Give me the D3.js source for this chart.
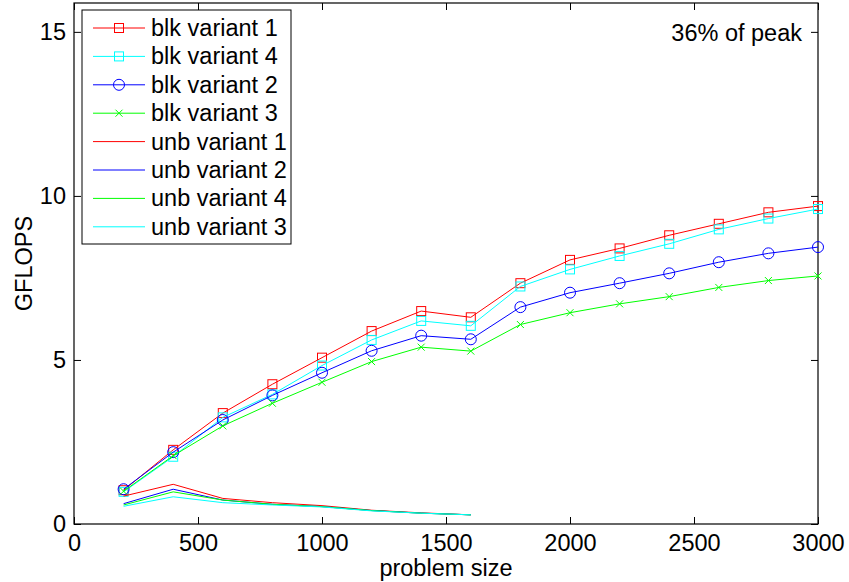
<!DOCTYPE html>
<html>
<head>
<meta charset="utf-8">
<script src="https://d3js.org/d3.v7.min.js"></script>
<style>
  body { margin: 0; background: #fff; }
  text { font-family: "Liberation Sans", Arial, sans-serif; fill: #000; }
</style>
</head>
<body>
<svg width="849" height="582"></svg>
<script>
// problem sizes
var blkSizes = [200, 400, 600, 800, 1000, 1200, 1400, 1600, 1800, 2000, 2200, 2400, 2600, 2800, 3000];
var unbSizes = [200, 400, 600, 800, 1000, 1200, 1400, 1600];

// GFLOPS
var blk1 = [1.03, 2.26, 3.38, 4.26, 5.07, 5.88, 6.49, 6.30, 7.34, 8.05, 8.40, 8.80, 9.15, 9.50, 9.69];
var blk4 = [0.98, 2.05, 3.25, 3.95, 4.83, 5.61, 6.19, 6.04, 7.24, 7.76, 8.17, 8.54, 8.98, 9.31, 9.60];
var blk2 = [1.06, 2.19, 3.17, 3.92, 4.61, 5.28, 5.74, 5.63, 6.61, 7.05, 7.34, 7.64, 7.98, 8.25, 8.44];
var blk3 = [1.00, 2.08, 2.99, 3.68, 4.32, 4.95, 5.39, 5.27, 6.08, 6.44, 6.71, 6.93, 7.21, 7.42, 7.56];
var unb1 = [0.85, 1.21, 0.78, 0.65, 0.56, 0.42, 0.34, 0.28];
var unb2 = [0.62, 1.06, 0.73, 0.60, 0.53, 0.41, 0.33, 0.28];
var unb4 = [0.58, 0.98, 0.73, 0.60, 0.53, 0.41, 0.33, 0.28];
var unb3 = [0.54, 0.83, 0.65, 0.58, 0.52, 0.40, 0.33, 0.28];

var xTicks = [0, 500, 1000, 1500, 2000, 2500, 3000];
var yTicks = [0, 5, 10, 15];
var peakNote = "36% of peak";

var series = [
  {name: "blk variant 1", x: blkSizes, y: blk1, color: "#ff0000", marker: "square"},
  {name: "blk variant 4", x: blkSizes, y: blk4, color: "#00ffff", marker: "square"},
  {name: "blk variant 2", x: blkSizes, y: blk2, color: "#0000ff", marker: "circle"},
  {name: "blk variant 3", x: blkSizes, y: blk3, color: "#00ff00", marker: "x"},
  {name: "unb variant 1", x: unbSizes, y: unb1, color: "#ff0000", marker: null},
  {name: "unb variant 2", x: unbSizes, y: unb2, color: "#0000ff", marker: null},
  {name: "unb variant 4", x: unbSizes, y: unb4, color: "#00ff00", marker: null},
  {name: "unb variant 3", x: unbSizes, y: unb3, color: "#00ffff", marker: null}
];

var fs = "23.5px";
var pl = 74, pr = 818, pt = 3, pb = 524;
var svg = d3.select("svg");

var x = d3.scaleLinear().domain([0, 3000]).range([pl, pr]);
var y = d3.scaleLinear().domain([0, 15.88]).range([pb, pt]);

function drawMarker(g, type, cx, cy, color) {
  if (type == "square") {
    g.append("rect").attr("x", cx - 4.5).attr("y", cy - 4.5).attr("width", 9).attr("height", 9)
      .attr("fill", "none").attr("stroke", color).attr("stroke-width", 1);
  } else if (type == "circle") {
    g.append("circle").attr("cx", cx).attr("cy", cy).attr("r", 5.5)
      .attr("fill", "none").attr("stroke", color).attr("stroke-width", 1);
  } else if (type == "x") {
    g.append("path").attr("d", "M" + (cx - 3.5) + "," + (cy - 3.5) + "L" + (cx + 3.5) + "," + (cy + 3.5) +
      "M" + (cx - 3.5) + "," + (cy + 3.5) + "L" + (cx + 3.5) + "," + (cy - 3.5))
      .attr("stroke", color).attr("stroke-width", 1);
  }
}

// axes box with inward ticks (matlab style)
var axG = svg.append("g");
axG.append("g").attr("transform", "translate(0," + pb + ")")
  .call(d3.axisBottom(x).tickValues(xTicks).tickSizeInner(-7).tickSizeOuter(0).tickPadding(10).tickFormat(d3.format("d")))
  .call(g => g.select(".domain").remove());
axG.append("g").attr("transform", "translate(0," + pt + ")")
  .call(d3.axisTop(x).tickValues(xTicks).tickSizeInner(-7).tickSizeOuter(0).tickFormat(""))
  .call(g => g.select(".domain").remove());
axG.append("g").attr("transform", "translate(" + pl + ",0)")
  .call(d3.axisLeft(y).tickValues(yTicks).tickSizeInner(-7).tickSizeOuter(0).tickPadding(8).tickFormat(d3.format("d")))
  .call(g => g.select(".domain").remove());
axG.append("g").attr("transform", "translate(" + pr + ",0)")
  .call(d3.axisRight(y).tickValues(yTicks).tickSizeInner(-7).tickSizeOuter(0).tickFormat(""))
  .call(g => g.select(".domain").remove());
axG.selectAll(".tick line").attr("stroke", "#000");
axG.selectAll(".tick text").style("font-size", fs).attr("font-family", null);
axG.append("rect").attr("x", pl).attr("y", pt).attr("width", pr - pl).attr("height", pb - pt)
  .attr("fill", "none").attr("stroke", "#000").attr("stroke-width", 1.2);

// lines
var line = d3.line().x(d => x(d[0])).y(d => y(d[1]));
var plotG = svg.append("g");
series.forEach(function(s) {
  var pts = s.x.map((v, i) => [v, s.y[i]]);
  plotG.append("path").attr("d", line(pts)).attr("fill", "none")
    .attr("stroke", s.color).attr("stroke-width", 1);
  if (s.marker) {
    pts.forEach(p => drawMarker(plotG, s.marker, x(p[0]), y(p[1]), s.color));
  }
});

// labels
svg.append("text").attr("x", (pl + pr) / 2).attr("y", 576).attr("text-anchor", "middle")
  .style("font-size", fs).text("problem size");
svg.append("text").attr("transform", "translate(32," + ((pt + pb) / 2) + ") rotate(-90)")
  .attr("text-anchor", "middle").style("font-size", fs).text("GFLOPS");
svg.append("text").attr("x", 802).attr("y", 41).attr("text-anchor", "end")
  .style("font-size", fs).text(peakNote);

// legend
var lg = svg.append("g");
lg.append("rect").attr("x", 82).attr("y", 10).attr("width", 209).attr("height", 234)
  .attr("fill", "#fff").attr("stroke", "#000").attr("stroke-width", 1);
series.forEach(function(s, i) {
  var ly = 28 + i * 28.4;
  lg.append("line").attr("x1", 93).attr("x2", 145).attr("y1", ly).attr("y2", ly)
    .attr("stroke", s.color).attr("stroke-width", 1);
  if (s.marker) drawMarker(lg, s.marker, 119, ly, s.color);
  lg.append("text").attr("x", 151).attr("y", ly + 8).style("font-size", fs).text(s.name);
});
</script>
</body>
</html>
